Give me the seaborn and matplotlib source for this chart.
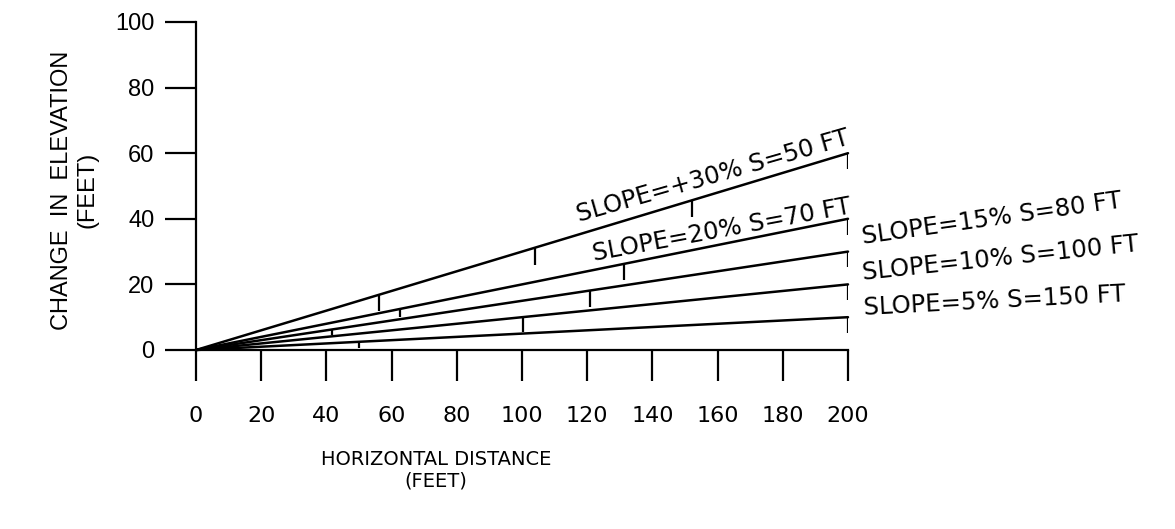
import matplotlib
matplotlib.use("Agg")
import matplotlib.pyplot as plt
import pandas as pd
import seaborn as sns

# slope lines (percent grade) and their end elevation at 200 ft
slopes = [30, 20, 15, 10, 5]
end_distance = [200, 200, 200, 200, 200]
end_elevation = [60, 40, 30, 20, 10]
slope_labels = ["SLOPE=+30% S=50 FT", "SLOPE=20% S=70 FT", "SLOPE=15% S=80 FT",
                "SLOPE=10% S=100 FT", "SLOPE=5% S=150 FT"]

# station marks on each line: horizontal distance and bottom of the mark
mark_x = {
    30: [56.0, 104.0, 152.0, 200.0],
    20: [62.6, 131.4, 200.0],
    15: [41.7, 120.9, 200.0],
    10: [100.4, 200.0],
    5: [50.0, 200.0],
}
mark_bottom = {
    30: [11.9, 26.0, 40.4, 55.3],
    20: [10.1, 21.2, 35.0],
    15: [4.6, 13.0, 25.2],
    10: [5.6, 15.1],
    5: [0.7, 5.1],
}

x_ticks = [0, 20, 40, 60, 80, 100, 120, 140, 160, 180, 200]
y_ticks = [0, 20, 40, 60, 80, 100]

rows = []
for s, xe, ye in zip(slopes, end_distance, end_elevation):
    rows.append({"distance": 0, "elevation": 0, "slope": s})
    rows.append({"distance": xe, "elevation": ye, "slope": s})
df = pd.DataFrame(rows)

sns.set_style("ticks")
plt.rcParams["font.family"] = ["DejaVu Sans"]
plt.rcParams["text.color"] = "black"
plt.rcParams["xtick.color"] = "black"
plt.rcParams["ytick.color"] = "black"

fig = plt.figure(figsize=(11.75, 5.29), dpi=100)
ax = fig.add_axes([196 / 1175, 1 - 350 / 529, 652 / 1175, 328 / 529])

sns.lineplot(data=df, x="distance", y="elevation", hue="slope", units="slope",
             estimator=None, palette=["black"] * len(slopes), legend=False,
             linewidth=1.8, ax=ax, clip_on=False)

for s in slopes:
    xs = mark_x[s]
    tops = [s / 100 * x for x in xs]
    ax.vlines(xs, mark_bottom[s], tops, colors="black", linewidth=1.6)

ax.set_xlim(0, 200)
ax.set_ylim(0, 100)
ax.set_xticks(x_ticks)
ax.set_yticks(y_ticks)
sns.despine(ax=ax)
for sp in ["left", "bottom"]:
    ax.spines[sp].set_linewidth(1.6)
    ax.spines[sp].set_color("black")

ax.tick_params(axis="x", direction="out", length=22, width=1.6, pad=18,
               labelsize=16, colors="black")
ax.tick_params(axis="y", direction="out", length=22, width=1.6, pad=8,
               labelsize=17, colors="black")
for lab in ax.get_yticklabels():
    lab.set_family(["Liberation Sans", "DejaVu Sans"])

ax.set_xlabel("")
ax.set_ylabel("")

ax.text(0.368, -0.366, "HORIZONTAL DISTANCE\n(FEET)", transform=ax.transAxes,
        ha="center", va="center", fontsize=14, linespacing=1.15, color="black")
ax.text(-0.186, 0.488, "CHANGE  IN  ELEVATION\n(FEET)", transform=ax.transAxes,
        ha="center", va="center", rotation=90, fontsize=17, linespacing=1.15,
        color="black", family=["Liberation Sans", "DejaVu Sans"])

label_pos = [(158.5, 53.0, 16.0), (161.3, 36.5, 10.5), (244.2, 39.9, 8.0),
             (246.9, 28.0, 6.0), (245.1, 14.9, 3.0)]
for text, (lx, ly, rot) in zip(slope_labels, label_pos):
    ax.text(lx, ly, text, ha="center", va="center", rotation=rot,
            rotation_mode="anchor", fontsize=17.5, color="black", clip_on=False)

fig.savefig("out.png", dpi=100, facecolor="white")
